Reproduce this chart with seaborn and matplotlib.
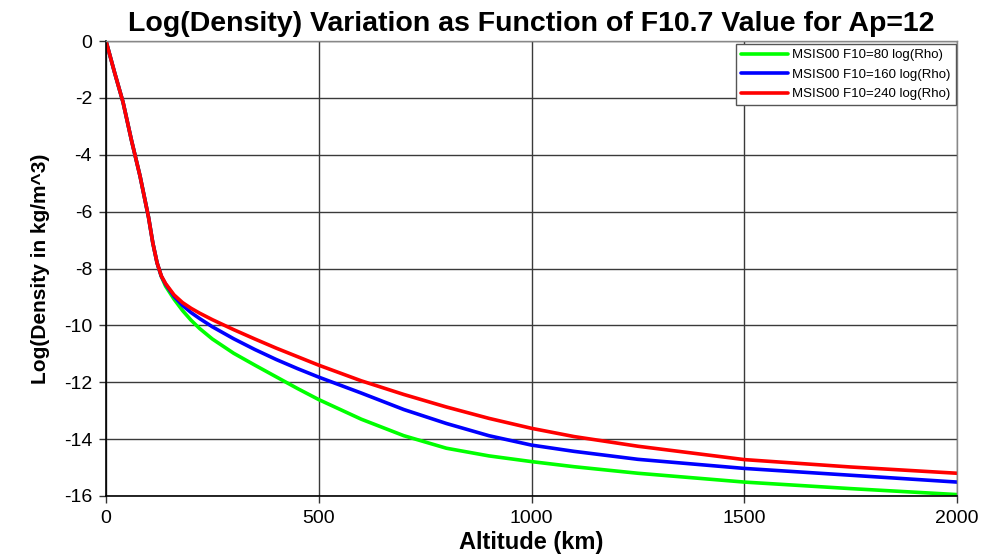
import matplotlib
matplotlib.use("Agg")
import matplotlib.pyplot as plt
import seaborn as sns
import pandas as pd

# ---- data ----
altitude = [0, 20, 40, 60, 80, 100, 110, 120, 130, 140, 160, 180, 200, 220, 250, 300, 350,
            400, 450, 500, 600, 700, 800, 900, 1000, 1100, 1250, 1500, 1750, 2000]
rho_f80 = [0.0, -1.1, -2.15, -3.5, -4.75, -6.2, -7.1, -7.8, -8.28, -8.62, -9.08, -9.48,
           -9.82, -10.11, -10.48, -10.98, -11.4, -11.81, -12.22, -12.61, -13.3, -13.88,
           -14.32, -14.59, -14.79, -14.97, -15.2, -15.51, -15.74, -15.95]
rho_f160 = [0.0, -1.1, -2.15, -3.5, -4.75, -6.2, -7.1, -7.8, -8.27, -8.55, -8.98, -9.3,
            -9.55, -9.76, -10.05, -10.47, -10.85, -11.2, -11.52, -11.82, -12.38, -12.96,
            -13.45, -13.88, -14.21, -14.43, -14.71, -15.03, -15.27, -15.51]
rho_f240 = [0.0, -1.1, -2.15, -3.5, -4.75, -6.2, -7.1, -7.8, -8.26, -8.53, -8.93, -9.2,
            -9.4, -9.57, -9.8, -10.15, -10.48, -10.8, -11.1, -11.40, -11.95, -12.43,
            -12.87, -13.27, -13.62, -13.91, -14.25, -14.72, -14.98, -15.20]
series_names = ["MSIS00 F10=80 log(Rho)", "MSIS00 F10=160 log(Rho)", "MSIS00 F10=240 log(Rho)"]
x_ticks = [0, 500, 1000, 1500, 2000]
y_ticks = [0, -2, -4, -6, -8, -10, -12, -14, -16]

frames = []
for name, vals in zip(series_names, [rho_f80, rho_f160, rho_f240]):
    frames.append(pd.DataFrame({"Altitude": altitude, "logRho": vals, "Series": name}))
df = pd.concat(frames, ignore_index=True)

sns.set_theme(style="white")
plt.rcParams['font.family'] = ['Liberation Sans', 'DejaVu Sans']
plt.rcParams['text.color'] = 'black'
plt.rcParams['axes.labelcolor'] = 'black'

fig = plt.figure(figsize=(9.83, 5.58), dpi=100)
ax = fig.add_axes([106 / 983, 1 - 496 / 558, (957 - 106) / 983, (496 - 41) / 558])

palette = {series_names[0]: "#00ff00", series_names[1]: "#0000ff", series_names[2]: "#ff0000"}
sns.lineplot(data=df, x="Altitude", y="logRho", hue="Series", palette=palette,
             hue_order=series_names, linewidth=2.6, ax=ax, sort=False)

ax.set_xlim(0, 2000)
ax.set_ylim(-16, 0)
ax.set_xticks(x_ticks)
ax.set_yticks(y_ticks)
ax.set_xticklabels([str(t) for t in x_ticks], fontsize=14)
ax.set_yticklabels([str(t) for t in y_ticks], fontsize=14)
ax.grid(True, color="#3a3a3a", linewidth=1.0)
ax.set_axisbelow(True)
ax.tick_params(axis="both", which="major", direction="out", length=5, width=1,
               color="#333333", labelcolor="black", pad=5, left=True, bottom=True)
for side in ["top", "right"]:
    ax.spines[side].set_color("#888888")
    ax.spines[side].set_linewidth(1.0)
for side in ["left", "bottom"]:
    ax.spines[side].set_color("black")
    ax.spines[side].set_linewidth(1.2)

ax.set_xlabel("Altitude (km)", fontsize=17, fontweight="bold", labelpad=3, color="black")
ax.set_ylabel("Log(Density in kg/m^3)", fontsize=15, fontweight="bold", labelpad=10,
              color="black")
ax.set_title("Log(Density) Variation as Function of F10.7 Value for Ap=12", fontsize=20.5,
             fontweight="bold", pad=7, color="black")

leg = ax.legend(loc="upper right", bbox_to_anchor=(1.002, 1.0), frameon=True,
                fancybox=False, framealpha=1, edgecolor="#555555", handlelength=3.6,
                handletextpad=0.3, borderpad=0.4, labelspacing=0.55, borderaxespad=0.2,
                title=None, prop={'size': 9.5})
for line in leg.get_lines():
    line.set_linewidth(2.6)
for txt in leg.get_texts():
    txt.set_color("black")

fig.savefig("out.png", dpi=100)
